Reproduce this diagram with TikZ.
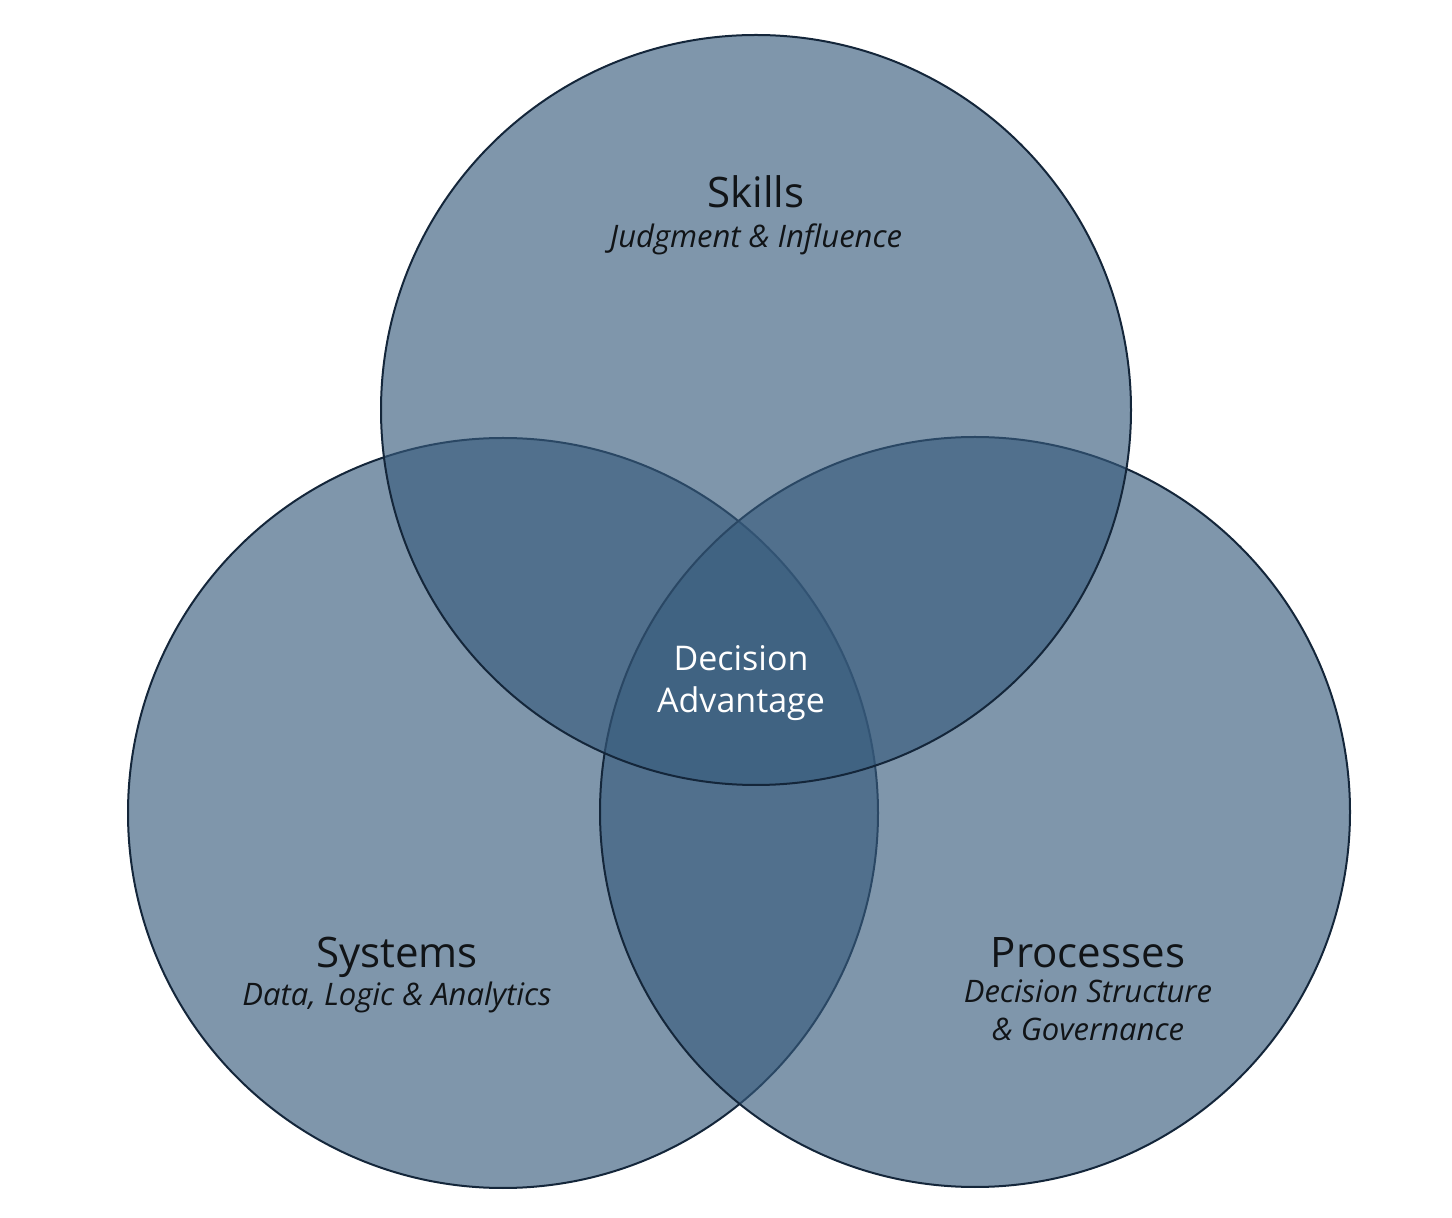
\documentclass[tikz,border=0pt]{standalone}
\usepackage{fontspec}
\setmainfont{Open Sans}
\usepackage{xcolor}
\usepackage{tikz}
\usetikzlibrary{positioning}
\definecolor{venn}{HTML}{375B7C}
\definecolor{rim}{HTML}{14263A}
\definecolor{ink}{HTML}{111417}
\tikzset{
    set/.style={circle, draw=rim, line width=1pt, fill=venn, fill opacity=0.64, minimum size=375pt, inner sep=0pt},
    title/.style={anchor=base, inner sep=0pt, font=\fontsize{21}{25}\selectfont, text=ink},
    sub/.style={anchor=base, inner sep=0pt, font=\fontsize{15.5}{19}\selectfont\itshape, text=ink, align=center},
    core/.style={anchor=base, inner sep=0pt, font=\fontsize{17}{21}\selectfont, text=white, align=center}
}
\begin{document}
\begin{tikzpicture}[x=0.5pt, y=-0.5pt]
\useasboundingbox (0,0) rectangle (1452,1218);

% Sets
\node[set] (systems) at (503,813) {};
\node[set] (processes) at (975,812) {};
\node[set] (skills) at (756,410) {};

% Labels (multi-line text sits on its last baseline)
\node[title] (skillsT) at (756,208) {Skills};
\node[sub] (skillsS) at (756,248) {Judgment \& Influence};
\node[title] (systemsT) at (397,968) {Systems};
\node[sub] (systemsS) at (397,1006) {Data, Logic \& Analytics};
\node[title] (processesT) at (1088,968) {Processes};
\node[sub] (processesS) at (1088,1041) {Decision Structure\\\& Governance};

% Centre
\node[core] (advantage) at (741,713) {Decision\\Advantage};

\end{tikzpicture}
\end{document}
